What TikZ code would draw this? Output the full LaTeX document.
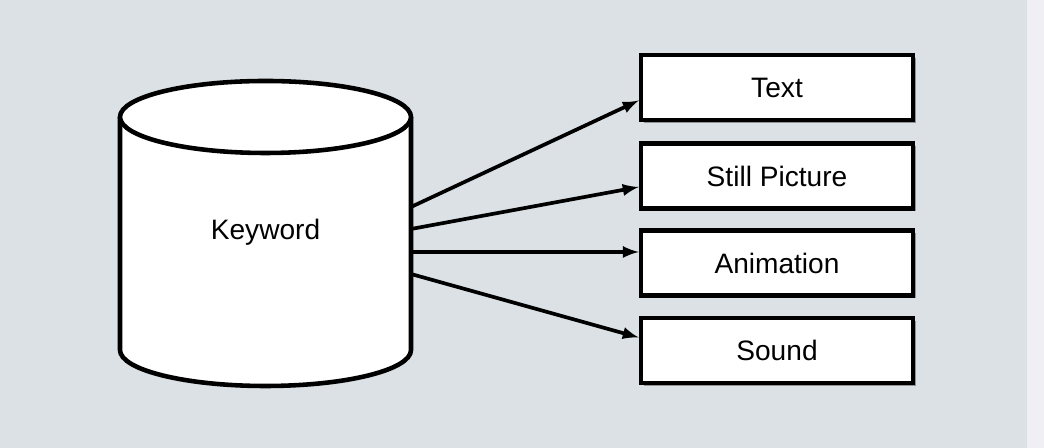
\documentclass[tikz,border=0pt]{standalone}
\usepackage{fontspec}
\setmainfont{Liberation Sans}
\usetikzlibrary{arrows, calc, math, shadows}
\definecolor{mybg}{RGB}{219,225,228}
\definecolor{mystrip}{RGB}{240,240,244}

\begin{document}
\begin{tikzpicture}[x=0.02cm, y=0.02cm]
\tikzmath{
\cx=265.5;
\rx=145.5;
\ry=36;
\yt=331;
\yb=98;
}
\fill[color=mybg] (0,0) rectangle (1044,448);
\fill[color=mystrip] (1027,0) rectangle (1044,448);
\useasboundingbox (0,0) rectangle (1044,448);

\tikzset{
  item/.style={draw, fill=white, line width=2.6, minimum width=5.44cm, minimum height=1.3cm,
    font=\fontsize{16}{19}\selectfont,
    drop shadow={shadow xshift=0.06cm, shadow yshift=-0.06cm, fill=black!55, opacity=0.7}},
  link/.style={-latex, line width=2.1}
}

% cylinder
\fill[white] (\cx-\rx,\yt) -- (\cx-\rx,\yb) arc(180:360:{\rx} and {\ry}) -- (\cx+\rx,\yt) -- cycle;
\draw[line width=2.6] (\cx-\rx,\yt) -- (\cx-\rx,\yb) arc(180:360:{\rx} and {\ry}) -- (\cx+\rx,\yt);
\draw[line width=2.6, fill=white] (\cx,\yt) ellipse({\rx} and {\ry});
\node[font=\fontsize{16}{19}\selectfont] (keyword) at (\cx,216) {Keyword};

\coordinate (k1) at (\cx+\rx,241);
\coordinate (k2) at (\cx+\rx,219);
\coordinate (k3) at (\cx+\rx,196);
\coordinate (k4) at (\cx+\rx,174);

\node[item] (text) at (777,360.5) {Text};
\node[item] (still) at (777,272) {Still Picture};
\node[item] (anim) at (777,185) {Animation};
\node[item] (sound) at (777,97.5) {Sound};

\draw[link] (k1) -- ($(text.west)+(0,-13)$);
\draw[link] (k2) -- ($(still.west)+(0,-11)$);
\draw[link] (k3) -- ($(anim.west)+(0,11)$);
\draw[link] (k4) -- ($(sound.west)+(0,13)$);

\end{tikzpicture}
\end{document}
